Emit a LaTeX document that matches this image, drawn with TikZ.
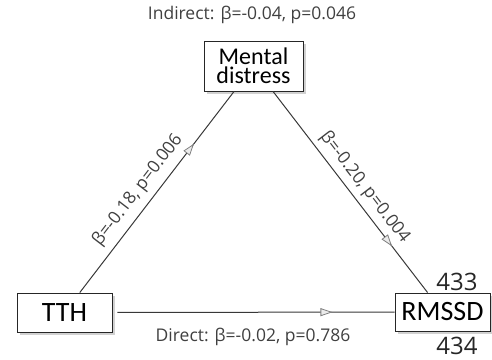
\documentclass[tikz,border=0pt]{standalone}
\usepackage{fontspec}
\setmainfont{Open Sans}
\newfontfamily\boxfont{Carlito}
\usetikzlibrary{shadows,arrows.meta,decorations.markings}
\begin{document}
\begin{tikzpicture}[x=1pt,y=-1pt,
  varbox/.style={draw=black!85, line width=0.9pt, fill=white, inner sep=0pt,
    drop shadow={shadow xshift=2.5pt, shadow yshift=-2.5pt, fill=black!30, opacity=0.6},
    font=\boxfont, align=center},
  path/.style={draw=black!78, line width=1pt},
  lab/.style={font=\fontsize{17.5}{19}\selectfont, text=black!75, inner sep=2pt},
  mid/.style={postaction={decorate}, decoration={markings,
    mark=at position #1 with {\arrow[black!50, line width=0.8pt]{Triangle[open, length=12pt, width=8pt, fill=black!8]}}}}
]
\useasboundingbox (0,0) rectangle (492,359);
\node[varbox, minimum width=99pt, minimum height=50pt, font=\boxfont\fontsize{24}{19}\selectfont] (md) at (253.5,66) {Mental\\distress};
\node[varbox, minimum width=95pt, minimum height=39pt, font=\boxfont\fontsize{28}{30}\selectfont] (tth) at (64.5,312.5) {TTH};
\node[varbox, minimum width=95pt, minimum height=38pt, font=\boxfont\fontsize{28}{30}\selectfont] (rm) at (442.5,312) {RMSSD};

\draw[path, mid=0.74] (tth) -- node[lab, sloped, above=5pt, pos=0.46] {β=-0.18, p=0.006} (md);
\draw[path, mid=0.77] (md) -- node[lab, sloped, above=3pt, pos=0.52] {β=-0.20, p=0.004} (rm);
\draw[path, mid=0.78, shorten <=5pt] (tth) -- (rm);

\node[lab] (ind) at (252,15) {Indirect: β=-0.04, p=0.046};
\node[lab] (dir) at (253,337) {Direct: β=-0.02, p=0.786};
\node[font=\fontsize{24}{26}\selectfont, text=black!85] (n433) at (457,282) {433};
\node[font=\fontsize{24}{26}\selectfont, text=black!85] (n434) at (457,346) {434};
\end{tikzpicture}
\end{document}
